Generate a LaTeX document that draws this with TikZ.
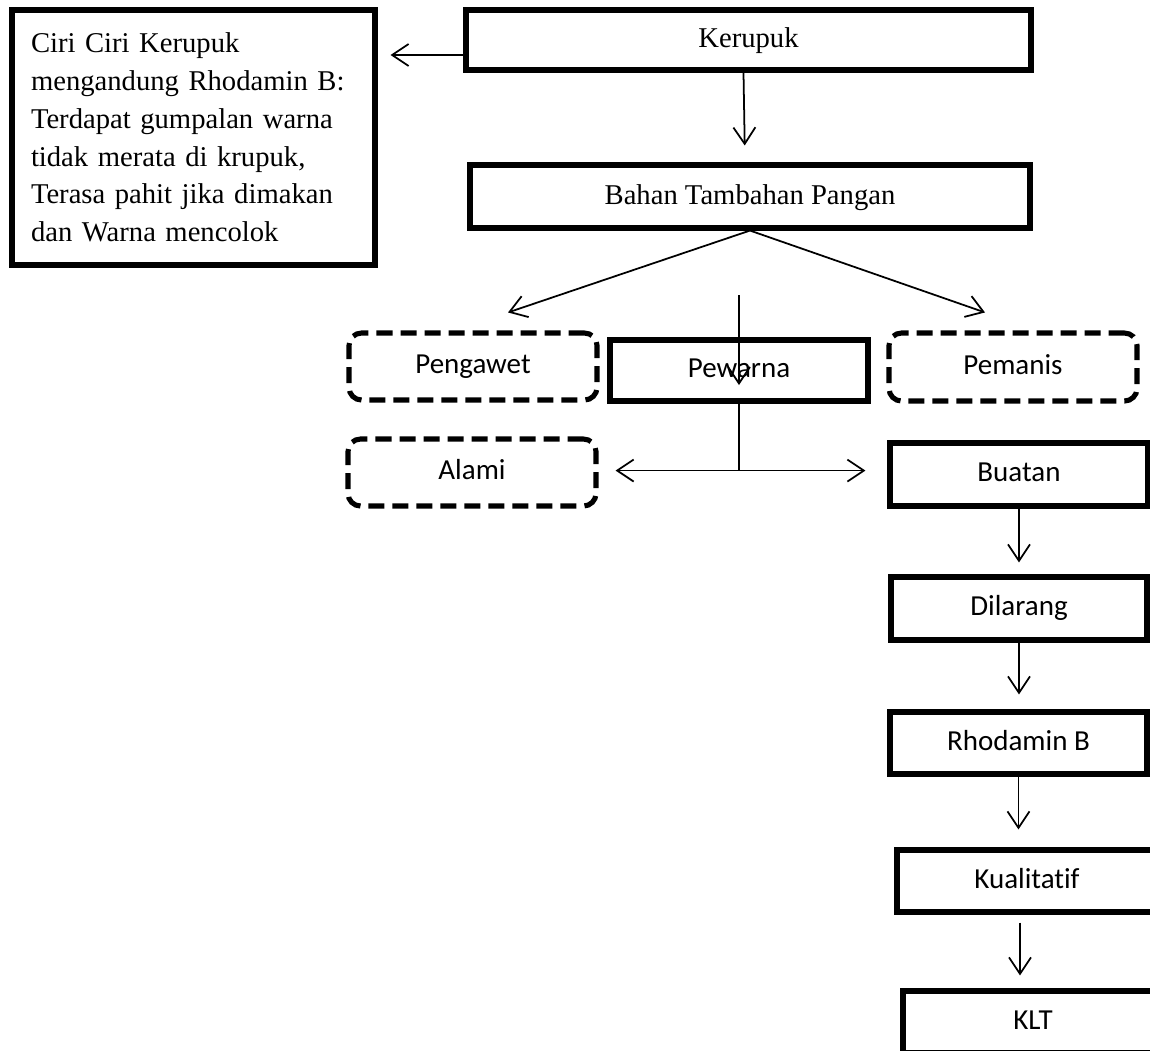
\documentclass[tikz,border=0pt]{standalone}
\usepackage{fontspec}
\setmainfont{Liberation Serif}
\newfontfamily\calibri[Ligatures=NoCommon]{Carlito}
\usepackage{tikz}
\usetikzlibrary{arrows.meta}
\tikzstyle{kotak}=[draw=black,line width=2.9pt,inner sep=0mm,text height=0.9em,text depth=0pt,font=\fontsize{16.3}{21.5}\selectfont]
\tikzstyle{kotaksans}=[kotak,text height=0.8em,font=\calibri\fontsize{16.5}{20}\selectfont]
\tikzstyle{putus}=[kotaksans,rounded corners=0.25cm,dash pattern=on 0.32cm off 0.16cm]
\tikzstyle{arrow}=[->,>={Straight Barb[length=3.3mm,width=4.4mm]}]
\tikzset{every picture/.style={
    line width=1
  }
}

\begin{document}
\begin{tikzpicture}
      \useasboundingbox (0,0) rectangle (23,-21);
      \clip (0,0) rectangle (23,-21);
      \node[kotak,minimum width=7.26cm,minimum height=5.1cm,text width=6.5cm,text height=,text depth=,align=left] at (3.87,-2.75) (ciri) {Ciri Ciri Kerupuk\\ mengandung Rhodamin B:\\ Terdapat gumpalan warna\\ tidak merata di krupuk,\\ Terasa pahit jika dimakan\\ dan Warna mencolok};
      \node[kotak,minimum width=11.3cm,minimum height=1.2cm] at (14.97,-0.8) (kerupuk) {Kerupuk};
      \node[kotak,minimum width=11.2cm,minimum height=1.26cm] at (15,-3.93) (bahan) {Bahan Tambahan Pangan};
      \node[putus,minimum width=4.96cm,minimum height=1.34cm] at (9.46,-7.33) (pengawet) {Pengawet};
      \node[kotaksans,minimum width=5.16cm,minimum height=1.22cm] at (14.78,-7.41) (pewarna) {Pewarna};
      \node[putus,minimum width=4.96cm,minimum height=1.36cm] at (20.26,-7.34) (pemanis) {Pemanis};
      \node[putus,minimum width=4.96cm,minimum height=1.34cm] at (9.44,-9.45) (alami) {Alami};
      \node[kotaksans,minimum width=5.16cm,minimum height=1.26cm] at (20.38,-9.49) (buatan) {Buatan};
      \node[kotaksans,minimum width=5.12cm,minimum height=1.26cm] at (20.38,-12.17) (dilarang) {Dilarang};
      \node[kotaksans,minimum width=5.14cm,minimum height=1.24cm] at (20.37,-14.86) (rhodamin) {Rhodamin B};
      \node[kotaksans,minimum width=5.2cm,minimum height=1.24cm] at (20.54,-17.62) (kualitatif) {Kualitatif};
      \node[kotaksans,minimum width=5.2cm,minimum height=1.24cm] at (20.66,-20.44) (klt) {KLT};
      \coordinate (kerupukout) at ([yshift=-0.3cm]kerupuk.west);
      \coordinate (pewarnain) at ([yshift=0.84cm]pewarna.north);
      \coordinate (cabang) at ([yshift=-1.34cm]pewarna.south);
      \draw[arrow,shorten >=0.26cm] (kerupukout)--(kerupukout -| ciri.east);
      \draw[arrow,shorten >=0.34cm] ([xshift=-0.1cm]kerupuk.south)--([xshift=-0.1cm]bahan.north);
      \draw[arrow] (bahan.south)--([xshift=0.7cm,yshift=0.36cm]pengawet.north);
      \draw[arrow] (bahan.south)--([xshift=-0.56cm,yshift=0.36cm]pemanis.north);
      \draw[arrow] (pewarnain)--([yshift=-0.29cm]pewarna.center);
      \draw (pewarna.south)--(cabang);
      \draw[arrow,shorten >=0.34cm] (cabang)--(cabang -| alami.east);
      \draw[arrow,shorten >=0.44cm] (cabang)--(cabang -| buatan.west);
      \draw[arrow,shorten >=0.24cm] (buatan.south)--(dilarang.north -| buatan.south);
      \draw[arrow,shorten >=0.3cm] (dilarang.south)--(rhodamin.north -| dilarang.south);
      \draw[arrow,shorten >=0.36cm] (rhodamin.south)--(kualitatif.north -| rhodamin.south);
      \draw[arrow,shorten <=0.16cm,shorten >=0.26cm] ([xshift=-0.14cm]kualitatif.south)--([xshift=-0.14cm]kualitatif.south |- klt.north);
    \end{tikzpicture}
\end{document}
